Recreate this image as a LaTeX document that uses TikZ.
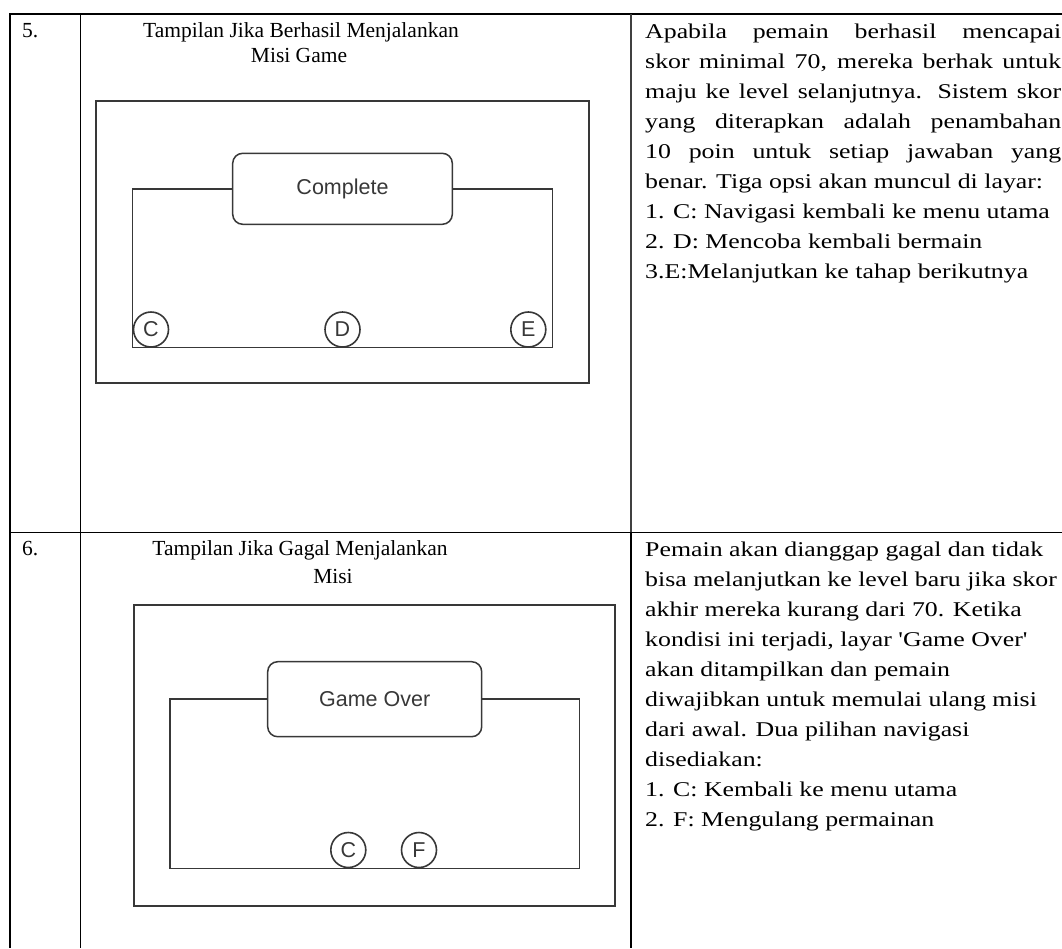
\documentclass[tikz,border=0pt]{standalone}
\usepackage{fontspec}
\setmainfont{Liberation Serif}
\newfontfamily\bodyfont[FakeStretch=1.23]{Liberation Serif}
\newfontfamily\uifont{Liberation Sans}

\def\ruleColor{black}
\def\mockColor{black!78}

\begin{document}
\begin{tikzpicture}[x=1pt, y=-1pt,
    body/.style={anchor=base west, inner sep=0pt, font=\bodyfont\fontsize{21}{30}\selectfont},
    caption/.style={anchor=base, inner sep=0pt, font=\fontsize{21.5}{30}\selectfont},
    frame/.style={draw=\mockColor, line width=1.6pt},
    banner/.style={draw=\mockColor, fill=white, line width=1.5pt, rounded corners=10pt,
        text=\mockColor, font=\uifont\fontsize{21.5}{21.5}\selectfont},
    btn/.style={circle, draw=\mockColor, fill=white, line width=1.6pt, minimum size=35pt,
        inner sep=0pt, text=\mockColor, font=\uifont\fontsize{21.5}{21.5}\selectfont}]

    % Define parameters
    \def\wdesc{416pt}
    \useasboundingbox (0,0) rectangle (1062,948);

    % table rules
    \draw[\ruleColor, line width=2pt] (10,14) -- (1062,14);
    \draw[\ruleColor, line width=2.5pt] (10,13) -- (10,948);
    \draw[\ruleColor, line width=1pt] (80,14) -- (80,948);
    \draw[\ruleColor!75, line width=1.3pt] (631,14) -- (631,532);
    \draw[\ruleColor, line width=1.3pt] (631,532) -- (631,948);
    \draw[\ruleColor, line width=1pt] (10,532) -- (1062,532);

    % row 5
    \node[anchor=base west, inner sep=0pt, font=\fontsize{21.5}{30}\selectfont] (num5) at (22,37) {5.};
    \node[caption] (title5a) at (301,37) {Tampilan Jika Berhasil Menjalankan};
    \node[caption] (title5b) at (299,62) {Misi Game};

    \draw[frame, line width=1.9pt] (96,101) rectangle (589,383);
    \draw[frame] (132.5,188.8) rectangle (552.5,347.3);
    \node[banner, minimum width=219.6pt, minimum height=71pt] (complete) at (342.5,188.8) {Complete};
    \node[btn] (btnC) at (151,329.5) {C};
    \node[btn] (btnD) at (342.5,329.5) {D};
    \node[btn] (btnE) at (528.3,329.5) {E};

    \node[body] (desc5a) at (645,38.5) {\makebox[\wdesc][s]{Apabila pemain berhasil mencapai}};
    \node[body] (desc5b) at (645,68.5) {\makebox[\wdesc][s]{skor minimal 70, mereka berhak untuk}};
    \node[body] (desc5c) at (645,98.5) {\makebox[\wdesc][s]{maju ke level selanjutnya. Sistem skor}};
    \node[body] (desc5d) at (645,128.5) {\makebox[\wdesc][s]{yang diterapkan adalah penambahan}};
    \node[body] (desc5e) at (645,158.5) {\makebox[\wdesc][s]{10 poin untuk setiap jawaban yang}};
    \node[body] (desc5f) at (645,188.5) {benar. Tiga opsi akan muncul di layar:};
    \node[body] (desc5g) at (645,218.5) {1. C: Navigasi kembali ke menu utama};
    \node[body] (desc5h) at (645,248.5) {2. D: Mencoba kembali bermain};
    \node[body] (desc5i) at (645,278.5) {3.E:Melanjutkan ke tahap berikutnya};

    % row 6
    \node[anchor=base west, inner sep=0pt, font=\fontsize{21.5}{30}\selectfont] (num6) at (22,555) {6.};
    \node[caption] (title6a) at (300,555) {Tampilan Jika Gagal Menjalankan};
    \node[caption] (title6b) at (333,583) {Misi};

    \draw[frame, line width=1.9pt] (134.3,605) rectangle (615,906);
    \draw[frame] (170,699.2) rectangle (579.3,868.3);
    \node[banner, minimum width=214pt, minimum height=75pt] (gameover) at (374.7,699.2) {Game Over};
    \node[btn] (btnC2) at (348.3,850) {C};
    \node[btn] (btnF) at (419,850) {F};

    \node[body] (desc6a) at (645,556.7) {Pemain akan dianggap gagal dan tidak};
    \node[body] (desc6b) at (645,586.7) {bisa melanjutkan ke level baru jika skor};
    \node[body] (desc6c) at (645,616.7) {akhir mereka kurang dari 70. Ketika};
    \node[body] (desc6d) at (645,646.7) {kondisi ini terjadi, layar 'Game Over'};
    \node[body] (desc6e) at (645,676.7) {akan ditampilkan dan pemain};
    \node[body] (desc6f) at (645,706.7) {diwajibkan untuk memulai ulang misi};
    \node[body] (desc6g) at (645,736.7) {dari awal. Dua pilihan navigasi};
    \node[body] (desc6h) at (645,766.7) {disediakan:};
    \node[body] (desc6i) at (645,796.7) {1. C: Kembali ke menu utama};
    \node[body] (desc6j) at (645,826.7) {2. F: Mengulang permainan};

\end{tikzpicture}
\end{document}
